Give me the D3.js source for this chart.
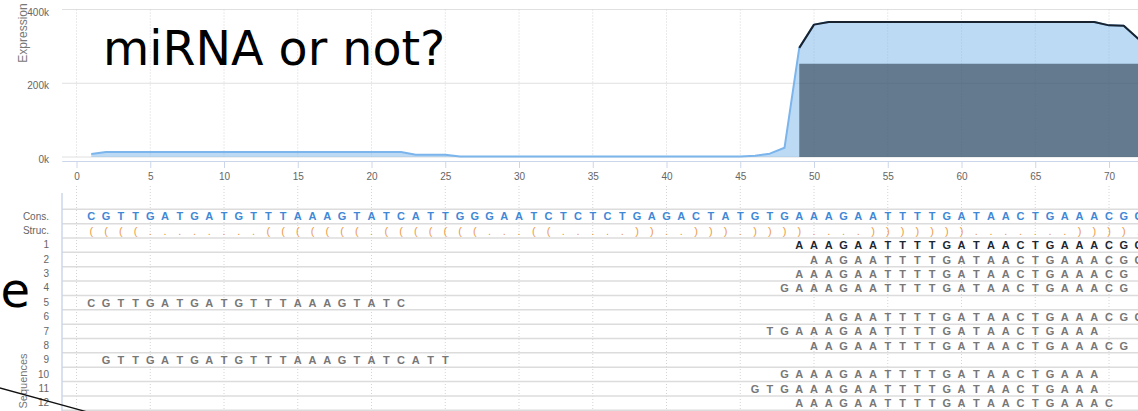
<!DOCTYPE html>
<html><head><meta charset="utf-8">
<script src="https://cdn.jsdelivr.net/npm/d3@7"></script>
<style>
html,body{margin:0;padding:0;background:#fff;overflow:hidden}
svg{display:block;font-family:"Liberation Sans",Arial,sans-serif}
</style></head><body>
<svg id="c" width="1138" height="411"></svg>
<script>
// ---------- data ----------
const consensus = "CGTTGATGATGTTTAAAGTATCATTGGGAATCTCTCTGAGACTATGTGAAAGAATTTTGATAACTGAAACGC";
const structure = "((((" + "........" + "(((((((" + "." + "(((((((" + "..." + "((" + "....." + "))" + ".." + ")))" + "." + "))))" + "...." + ")))))))" + "......." + "))))" + ".";
const readLabels = ["1","2","3","4","5","6","7","8","9","10","11","12"];
const readStarts = [49,50,49,48,1,51,47,50,2,48,46,49];
const readSeqs = [
  "AAAGAATTTTGATAACTGAAACGC",
  "AAGAATTTTGATAACTGAAACGC",
  "AAAGAATTTTGATAACTGAAACG",
  "GAAAGAATTTTGATAACTGAAACG",
  "CGTTGATGATGTTTAAAGTATC",
  "AGAATTTTGATAACTGAAACGC",
  "TGAAAGAATTTTGATAACTGAAA",
  "AAGAATTTTGATAACTGAAACG",
  "GTTGATGATGTTTAAAGTATCATT",
  "GAAAGAATTTTGATAACTGAAA",
  "GTGAAAGAATTTTGATAACTGAAA",
  "AAAGAATTTTGATAACTGAAAC"
];
// expression per position 1..72
const expression = [
  8000,
  13500,13500,13500,13500,13500,13500,13500,13500,13500,13500,13500,13500,13500,13500,13500,13500,13500,13500,13500,13500,13500,
  6000,6000,6000,
  1500,1500,1500,1500,1500,1500,1500,1500,1500,1500,1500,1500,1500,1500,1500,1500,1500,1500,1500,1500,
  3500,9000,25000,
  296000,359000,
  366000,366000,366000,366000,366000,366000,366000,366000,366000,366000,366000,366000,366000,366000,366000,366000,366000,366000,366000,
  357000,356000,320000
];
const selectedStart = 49;
const selectedValues = [253000,253000,253000,253000,253000,253000,253000,253000,253000,253000,253000,253000,
  253000,253000,253000,253000,253000,253000,253000,253000,253000,253000,253000,253000];
const xTicks = [0,5,10,15,20,25,30,35,40,45,50,55,60,65,70];
const yTicks = [0,200000,400000];
const rowLabels = ["Cons.","Struc."].concat(readLabels);

// ---------- scales ----------
const svg = d3.select("#c");
const W = 1138;
const x = d3.scaleLinear().domain([-1, 72]).range([61.75, 1138.5]);
const y = d3.scaleLinear().domain([0, 400000]).range([157, 9.5]);
const band = d3.scaleBand().domain(rowLabels).range([209.3, 410.3]).padding(0);

// ---------- top panel ----------
const topG = svg.append("g");
topG.selectAll("line.hg").data(yTicks).join("line")
  .attr("x1", 62).attr("x2", W).attr("y1", d => y(d)).attr("y2", d => y(d))
  .attr("stroke", "#e0e0e0").attr("stroke-width", 1);
topG.selectAll("line.vg").data(xTicks).join("line")
  .attr("x1", d => x(d)).attr("x2", d => x(d)).attr("y1", y(400000)).attr("y2", y(0))
  .attr("stroke", "#d4d4d4").attr("stroke-dasharray", "1,2");

const yAxis = d3.axisLeft(y).tickValues(yTicks).tickSize(0).tickPadding(13)
  .tickFormat(d => (d / 1000) + "k");
const gy = topG.append("g").attr("transform", "translate(62,0)").call(yAxis);
gy.select(".domain").remove();
gy.selectAll("text").attr("fill", "#666").attr("font-size", 10)
  .attr("font-family", "Liberation Sans, Arial, sans-serif").attr("dy", "0.55em");

const xAxis = d3.axisBottom(x).tickValues(xTicks).tickSize(7).tickSizeOuter(0).tickPadding(5);
const gx = topG.append("g").attr("transform", "translate(0,161)").call(xAxis);
gx.select(".domain").attr("stroke", "#ccd6eb");
gx.selectAll(".tick line").attr("stroke", "#ccd6eb");
gx.selectAll("text").attr("fill", "#666").attr("font-size", 10)
  .attr("font-family", "Liberation Sans, Arial, sans-serif");

topG.append("text").attr("transform", "translate(27,33) rotate(-90)")
  .attr("text-anchor", "middle").attr("font-size", 12).attr("fill", "#777").text("Expression");

const expData = expression.map((v, i) => ({p: i + 1, v}));
const area = d3.area().x(d => x(d.p)).y0(y(0)).y1(d => y(d.v));
const line = d3.line().x(d => x(d.p)).y(d => y(d.v));
topG.append("path").datum(expData).attr("d", area).attr("fill", "#7cb5ec").attr("fill-opacity", 0.5);
topG.append("path").datum(expData).attr("d", line).attr("fill", "none")
  .attr("stroke", "#7cb5ec").attr("stroke-width", 2).attr("stroke-linejoin", "round");

const selData = selectedValues.map((v, i) => ({p: selectedStart + i, v}));
topG.append("path").datum(selData).attr("d", area).attr("fill", "#1c2b3a").attr("fill-opacity", 0.55);
const selLine = expData.filter(d => d.p >= selectedStart);
topG.append("path").datum(selLine).attr("d", line).attr("fill", "none")
  .attr("stroke", "#18232f").attr("stroke-width", 2).attr("stroke-linejoin", "round");

// ---------- bottom panel ----------
const bot = svg.append("g");
bot.selectAll("line.vg").data(xTicks).join("line")
  .attr("x1", d => x(d)).attr("x2", d => x(d)).attr("y1", 186).attr("y2", 411)
  .attr("stroke", "#d4d4d4").attr("stroke-dasharray", "1,2");
const bounds = rowLabels.map(r => band(r)).concat([band.range()[1]]);
bot.selectAll("line.rg").data(bounds).join("line")
  .attr("x1", 62).attr("x2", W).attr("y1", d => d).attr("y2", d => d)
  .attr("stroke", "#dcdcdc").attr("stroke-width", 1.5);
bot.append("line").attr("x1", 62).attr("x2", 62).attr("y1", 193).attr("y2", 411)
  .attr("stroke", "#ccd6eb").attr("stroke-width", 1.5);

const rAxis = d3.axisLeft(band).tickSize(0).tickPadding(13);
const gr = bot.append("g").attr("transform", "translate(62,0)").call(rAxis);
gr.select(".domain").remove();
gr.selectAll("text").attr("fill", "#666").attr("font-size", 10)
  .attr("font-family", "Liberation Sans, Arial, sans-serif");

bot.append("text").attr("transform", "translate(27,381) rotate(-90)")
  .attr("text-anchor", "middle").attr("font-size", 11).attr("fill", "#777").text("Sequences");

function drawRow(label, start, seq, color, weight) {
  const cy = band(label) + band.bandwidth() / 2;
  bot.append("g").selectAll("text").data(seq.split("").map((c, i) => ({p: start + i, c})))
    .join("text")
    .attr("x", d => x(d.p)).attr("y", cy).attr("dy", "0.36em")
    .attr("text-anchor", "middle").attr("font-size", 11).attr("font-weight", weight)
    .attr("fill", color).text(d => d.c);
}
drawRow("Cons.", 1, consensus, "#3f88d6", "bold");
drawRow("Struc.", 1, structure, "#ec9a4a", "normal");
readSeqs.forEach((s, i) => drawRow(readLabels[i], readStarts[i], s, i === 0 ? "#1b2733" : "#777", "bold"));

// ---------- slide overlay ----------
svg.append("text").attr("x", 103).attr("y", 65).attr("font-family", "DejaVu Sans")
  .attr("font-size", 47.5).attr("fill", "#000").text("miRNA or not?");
svg.append("text").attr("x", 30).attr("y", 307).attr("text-anchor", "end").attr("font-family", "DejaVu Sans")
  .attr("font-size", 48).attr("fill", "#000").text("e");
svg.append("line").attr("x1", -5).attr("y1", 386.6).attr("x2", 90).attr("y2", 412.7)
  .attr("stroke", "#111").attr("stroke-width", 1.3);
</script>
</body></html>
